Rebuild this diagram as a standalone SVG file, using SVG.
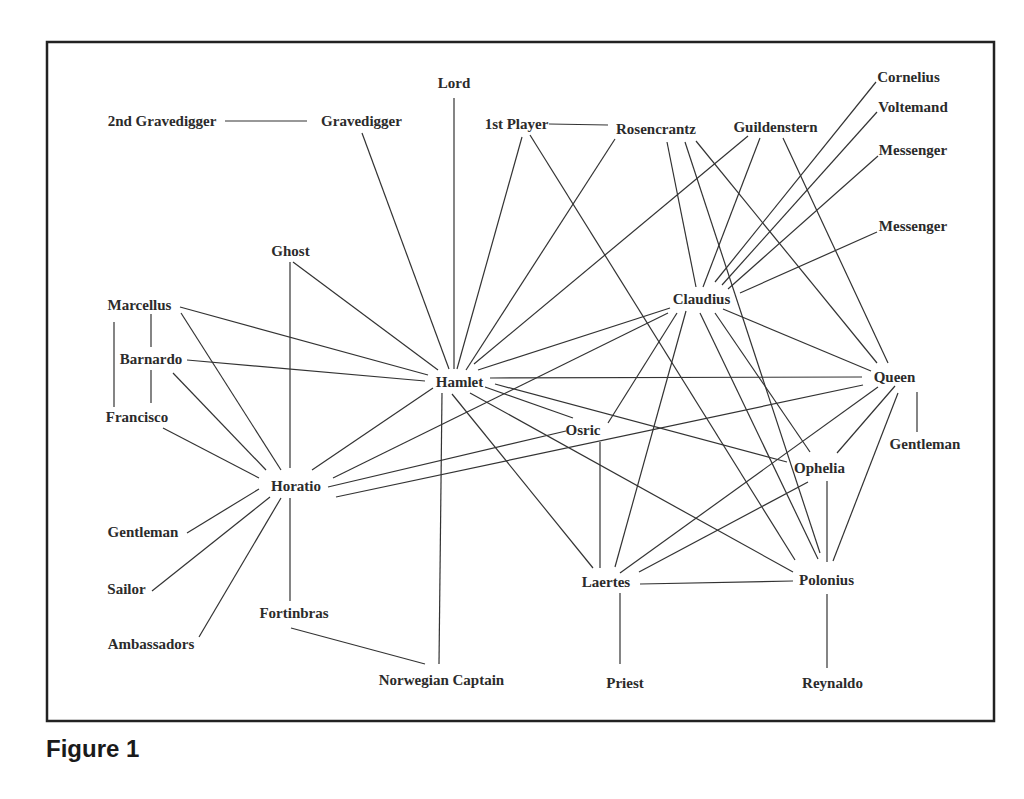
<svg xmlns="http://www.w3.org/2000/svg" width="1024" height="799" viewBox="0 0 1024 799">
<style>
.n{font-family:"Liberation Serif","Times New Roman",serif;font-weight:bold;font-size:15px;fill:#2b2b2b;text-anchor:middle}
.c line{stroke:#333;stroke-width:1.2;fill:none}
.fig{font-family:"Liberation Sans",Arial,sans-serif;font-weight:bold;font-size:24px;fill:#1a1a1a}
</style>
<rect x="0" y="0" width="1024" height="799" fill="#fff"/>
<rect x="47" y="42" width="947" height="679" fill="none" stroke="#222" stroke-width="2.5"/>
<g id="connectors" class="c">
<line x1="225" y1="121" x2="307" y2="121"/>
<line x1="362" y1="133" x2="449" y2="369"/>
<line x1="454" y1="98" x2="454" y2="369"/>
<line x1="522" y1="137" x2="457" y2="369"/>
<line x1="549" y1="124" x2="608" y2="125"/>
<line x1="530" y1="135" x2="795" y2="560"/>
<line x1="615" y1="139" x2="466" y2="370"/>
<line x1="667" y1="142" x2="696" y2="287"/>
<line x1="685" y1="142" x2="820" y2="553"/>
<line x1="696" y1="141" x2="877" y2="363"/>
<line x1="748" y1="136" x2="474" y2="364"/>
<line x1="760" y1="138" x2="703" y2="287"/>
<line x1="783" y1="138" x2="888" y2="363"/>
<line x1="876" y1="82" x2="715" y2="282"/>
<line x1="877" y1="112" x2="722" y2="285"/>
<line x1="878" y1="156" x2="728" y2="289"/>
<line x1="877" y1="232" x2="740" y2="293"/>
<line x1="670" y1="308" x2="478" y2="370"/>
<line x1="668" y1="313" x2="333" y2="478"/>
<line x1="677" y1="313" x2="608" y2="423"/>
<line x1="686" y1="311" x2="615" y2="567"/>
<line x1="700" y1="313" x2="818" y2="559"/>
<line x1="715" y1="313" x2="810" y2="452"/>
<line x1="723" y1="309" x2="871" y2="371"/>
<line x1="490" y1="378" x2="862" y2="377"/>
<line x1="863" y1="385" x2="336" y2="497"/>
<line x1="878" y1="387" x2="620" y2="573"/>
<line x1="895" y1="386" x2="837" y2="453"/>
<line x1="898" y1="393" x2="833" y2="561"/>
<line x1="917" y1="392" x2="917" y2="432"/>
<line x1="827" y1="481" x2="827" y2="562"/>
<line x1="808" y1="482" x2="639" y2="572"/>
<line x1="495" y1="384" x2="787" y2="462"/>
<line x1="180" y1="307" x2="428" y2="375"/>
<line x1="187" y1="360" x2="425" y2="381"/>
<line x1="293" y1="262" x2="438" y2="370"/>
<line x1="312" y1="470" x2="433" y2="388"/>
<line x1="442" y1="393" x2="439" y2="664"/>
<line x1="452" y1="394" x2="593" y2="568"/>
<line x1="470" y1="393" x2="793" y2="572"/>
<line x1="485" y1="387" x2="573" y2="418"/>
<line x1="600" y1="442" x2="600" y2="568"/>
<line x1="566" y1="431" x2="328" y2="487"/>
<line x1="640" y1="584" x2="793" y2="581"/>
<line x1="620" y1="593" x2="620" y2="664"/>
<line x1="827" y1="594" x2="827" y2="668"/>
<line x1="290" y1="262" x2="290" y2="468"/>
<line x1="290" y1="498" x2="290" y2="601"/>
<line x1="181" y1="313" x2="281" y2="470"/>
<line x1="173" y1="373" x2="266" y2="470"/>
<line x1="163" y1="428" x2="259" y2="478"/>
<line x1="187" y1="533" x2="259" y2="489"/>
<line x1="152" y1="591" x2="270" y2="497"/>
<line x1="199" y1="637" x2="281" y2="498"/>
<line x1="151" y1="314" x2="151" y2="347"/>
<line x1="151" y1="370" x2="151" y2="403"/>
<line x1="114" y1="322" x2="114" y2="407"/>
<line x1="291" y1="628" x2="425" y2="664"/>
</g>
<g id="lord"><text class="n" x="454" y="88">Lord</text></g>
<g id="gravedigger2"><text class="n" x="162" y="126">2nd Gravedigger</text></g>
<g id="gravedigger"><text class="n" x="361.5" y="126">Gravedigger</text></g>
<g id="player1"><text class="n" x="516.5" y="129">1st Player</text></g>
<g id="rosencrantz"><text class="n" x="656" y="134">Rosencrantz</text></g>
<g id="guildenstern"><text class="n" x="775.5" y="132">Guildenstern</text></g>
<g id="cornelius"><text class="n" x="908.5" y="82">Cornelius</text></g>
<g id="voltemand"><text class="n" x="913" y="112">Voltemand</text></g>
<g id="messenger1"><text class="n" x="913" y="155">Messenger</text></g>
<g id="messenger2"><text class="n" x="913" y="231">Messenger</text></g>
<g id="ghost"><text class="n" x="290.5" y="256">Ghost</text></g>
<g id="marcellus"><text class="n" x="139.5" y="310">Marcellus</text></g>
<g id="barnardo"><text class="n" x="151" y="364">Barnardo</text></g>
<g id="francisco"><text class="n" x="137" y="422">Francisco</text></g>
<g id="claudius"><text class="n" x="701.5" y="304">Claudius</text></g>
<g id="hamlet"><text class="n" x="459.5" y="387">Hamlet</text></g>
<g id="queen"><text class="n" x="894.5" y="382">Queen</text></g>
<g id="osric"><text class="n" x="583" y="435">Osric</text></g>
<g id="gentleman2"><text class="n" x="925" y="449">Gentleman</text></g>
<g id="ophelia"><text class="n" x="819.5" y="473">Ophelia</text></g>
<g id="horatio"><text class="n" x="296" y="491">Horatio</text></g>
<g id="gentleman1"><text class="n" x="143" y="537">Gentleman</text></g>
<g id="sailor"><text class="n" x="126.5" y="594">Sailor</text></g>
<g id="fortinbras"><text class="n" x="294" y="618">Fortinbras</text></g>
<g id="ambassadors"><text class="n" x="151" y="649">Ambassadors</text></g>
<g id="laertes"><text class="n" x="606" y="587">Laertes</text></g>
<g id="polonius"><text class="n" x="826.5" y="585">Polonius</text></g>
<g id="norwegian-captain"><text class="n" x="441.5" y="685">Norwegian Captain</text></g>
<g id="priest"><text class="n" x="625" y="688">Priest</text></g>
<g id="reynaldo"><text class="n" x="832.5" y="688">Reynaldo</text></g>
<text class="fig" x="46" y="757">Figure 1</text>
</svg>
